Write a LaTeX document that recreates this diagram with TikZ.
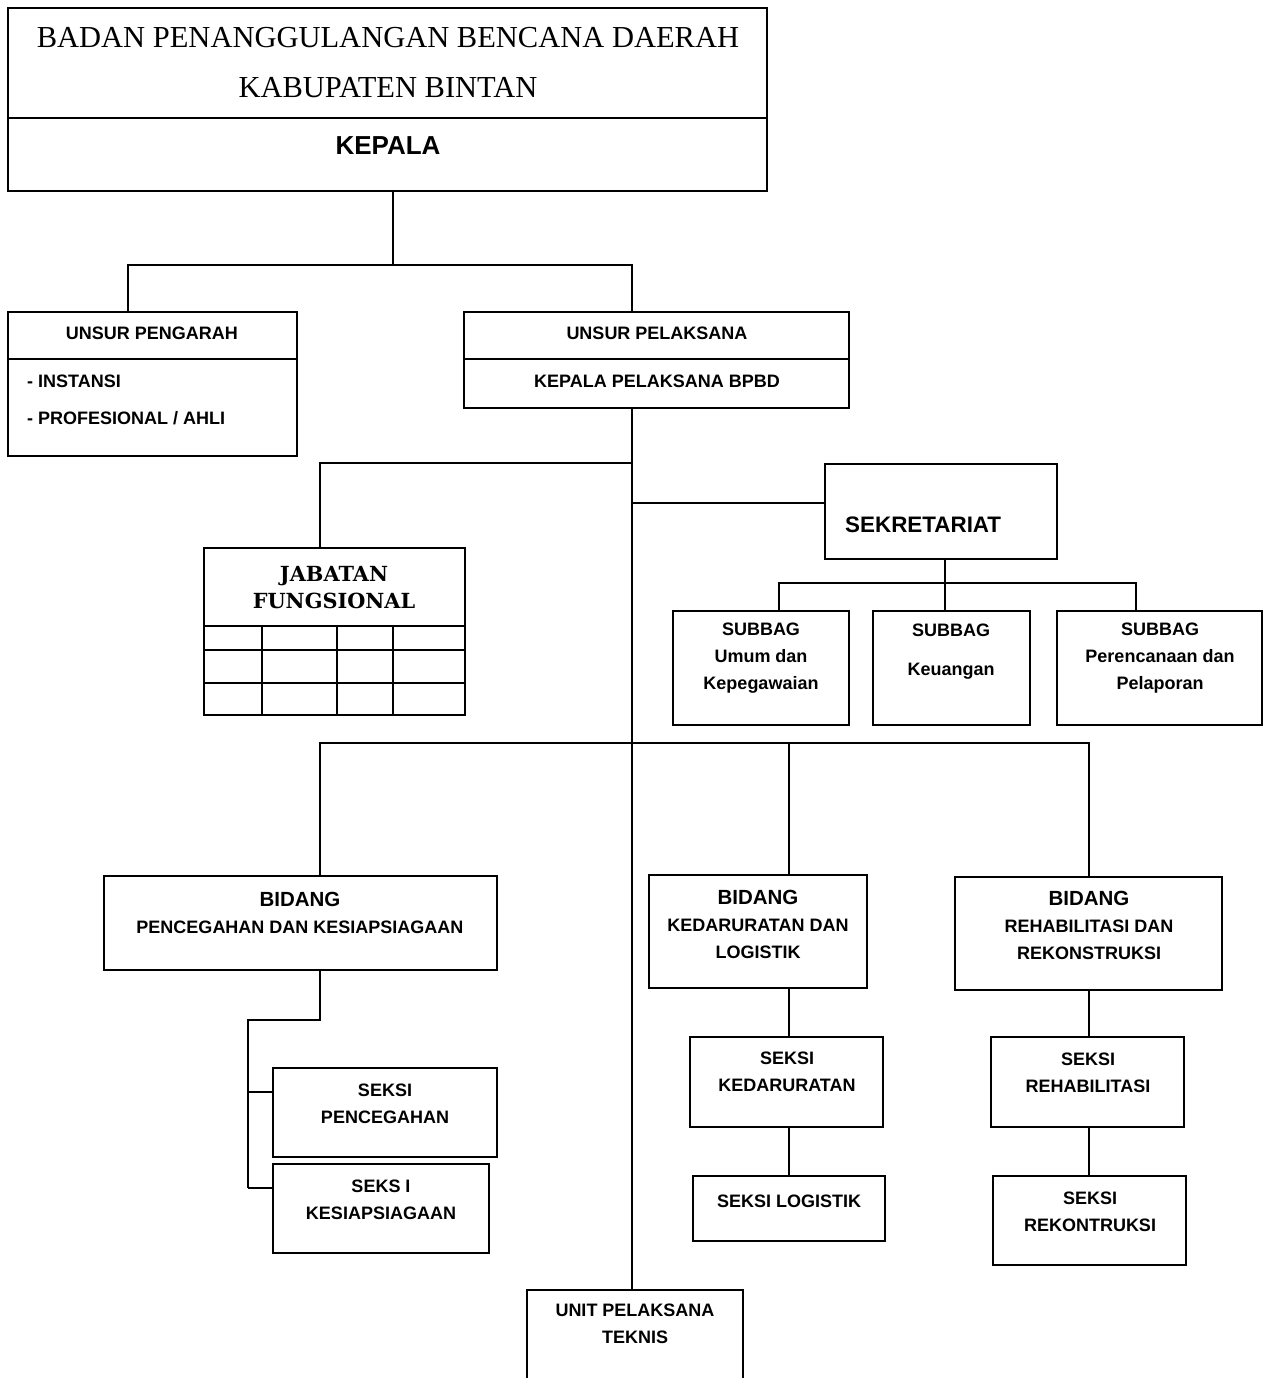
\documentclass[tikz,border=0pt]{standalone}
\usepackage{fontspec}
\setmainfont{Liberation Serif}
\newfontfamily\orgsans{Liberation Sans}
\newfontfamily\jabserif{DejaVu Serif}
\usepackage{tikz}
\usetikzlibrary{positioning}

\begin{document}
\begin{tikzpicture}[x=1pt, y=-1pt,
  box/.style={draw, line width=1.9pt, inner sep=0pt, outer sep=0pt},
  lbl/.style={font=\orgsans\bfseries\fontsize{18}{27}\selectfont, align=center, inner sep=0pt},
  conn/.style={line width=1.9pt}]
  \useasboundingbox (0,0) rectangle (1269,1378);

  % Kepala
  \node[box, minimum width=759pt, minimum height=110pt] (badan) at (387.5,63) {};
  \node[box, minimum width=759pt, minimum height=73pt] (kepala) at (387.5,154.5) {};
  \node[font=\fontsize{30.5}{50}\selectfont, align=center, inner sep=0pt] (t-badan) at (388,63) {BADAN PENANGGULANGAN BENCANA DAERAH\\KABUPATEN BINTAN};
  \node[lbl, font=\orgsans\bfseries\fontsize{26}{30}\selectfont] (t-kepala) at (388,146) {KEPALA};

  % Unsur pengarah / pelaksana
  \node[box, minimum width=289pt, minimum height=47pt] (pengarah) at (152.5,335.5) {};
  \node[box, minimum width=289pt, minimum height=97pt] (pengarah-isi) at (152.5,407.5) {};
  \node[lbl] (t-pengarah) at (152,333) {UNSUR PENGARAH};
  \node[lbl, anchor=west, align=left, font=\orgsans\bfseries\fontsize{18}{37}\selectfont] (t-pengarah-isi) at (27,399.5) {- INSTANSI\\- PROFESIONAL / AHLI};

  \node[box, minimum width=385pt, minimum height=47pt] (pelaksana) at (656.5,335.5) {};
  \node[box, minimum width=385pt, minimum height=49pt] (kalak) at (656.5,383.5) {};
  \node[lbl] (t-pelaksana) at (657,333) {UNSUR PELAKSANA};
  \node[lbl] (t-kalak) at (657,381) {KEPALA PELAKSANA BPBD};

  % Sekretariat
  \node[box, minimum width=232pt, minimum height=95pt] (sekretariat) at (941,511.5) {};
  \node[lbl, anchor=west, font=\orgsans\bfseries\fontsize{22.4}{27}\selectfont] (t-sekretariat) at (845,525) {SEKRETARIAT};

  \node[box, minimum width=176pt, minimum height=114pt] (subbag-umum) at (761,668) {};
  \node[box, minimum width=157pt, minimum height=114pt] (subbag-keu) at (951.5,668) {};
  \node[box, minimum width=205pt, minimum height=114pt] (subbag-renc) at (1159.5,668) {};
  \node[lbl] (t-subbag-umum) at (761,658) {SUBBAG\\Umum dan\\Kepegawaian};
  \node[lbl] (t-subbag-keu) at (951,651.5) {SUBBAG\\[12pt]Keuangan};
  \node[lbl] (t-subbag-renc) at (1160,658) {SUBBAG\\Perencanaan dan\\Pelaporan};

  % Jabatan fungsional
  \node[box, minimum width=261pt, minimum height=167pt] (jabatan) at (334.5,631.5) {};
  \node[font=\jabserif\bfseries\fontsize{20.8}{27}\selectfont, align=center, inner sep=0pt] (t-jabatan) at (334,588) {JABATAN\\FUNGSIONAL};
  \foreach \y in {626,650,683}
    \draw[conn] (204,\y) -- (465,\y);
  \foreach \x in {262,337,393}
    \draw[conn] (\x,626) -- (\x,715);

  % Bidang
  \node[box, minimum width=393pt, minimum height=94pt] (bidang-pk) at (300.5,923) {};
  \node[box, minimum width=218pt, minimum height=113pt] (bidang-kl) at (758,931.5) {};
  \node[box, minimum width=267pt, minimum height=113pt] (bidang-rr) at (1088.5,933.5) {};
  \node[lbl] (t-bidang-pk) at (300,913) {{\orgsans\bfseries\fontsize{20.5}{27}\selectfont BIDANG}\\PENCEGAHAN DAN KESIAPSIAGAAN};
  \node[lbl] (t-bidang-kl) at (758,924.5) {{\orgsans\bfseries\fontsize{20.5}{27}\selectfont BIDANG}\\KEDARURATAN DAN\\LOGISTIK};
  \node[lbl] (t-bidang-rr) at (1089,925) {{\orgsans\bfseries\fontsize{20.5}{27}\selectfont BIDANG}\\REHABILITASI DAN\\REKONSTRUKSI};

  % Seksi
  \node[box, minimum width=224pt, minimum height=89pt] (seksi-cegah) at (385,1112.5) {};
  \node[box, minimum width=216pt, minimum height=89pt] (seksi-siaga) at (381,1208.5) {};
  \node[box, minimum width=193pt, minimum height=90pt] (seksi-darurat) at (786.5,1082) {};
  \node[box, minimum width=192pt, minimum height=65pt] (seksi-logistik) at (789,1208.5) {};
  \node[box, minimum width=193pt, minimum height=90pt] (seksi-rehab) at (1087.5,1082) {};
  \node[box, minimum width=193pt, minimum height=89pt] (seksi-rekon) at (1089.5,1220.5) {};
  \node[lbl] (t-seksi-cegah) at (385,1103.5) {SEKSI\\PENCEGAHAN};
  \node[lbl] (t-seksi-siaga) at (381,1199.5) {SEKS I\\KESIAPSIAGAAN};
  \node[lbl] (t-seksi-darurat) at (787,1072) {SEKSI\\KEDARURATAN};
  \node[lbl] (t-seksi-logistik) at (789,1201) {SEKSI LOGISTIK};
  \node[lbl] (t-seksi-rehab) at (1088,1072.5) {SEKSI\\REHABILITASI};
  \node[lbl] (t-seksi-rekon) at (1090,1211.5) {SEKSI\\REKONTRUKSI};

  % UPT
  \node[box, minimum width=216pt, minimum height=110pt] (upt) at (635,1345) {};
  \node[lbl] (t-upt) at (635,1324) {UNIT PELAKSANA\\TEKNIS};

  % Connectors
  \coordinate (j-kepala) at (393,265);
  \coordinate (bus-a) at (128,265);
  \coordinate (bus-b) at (632,265);
  \draw[conn] (j-kepala |- kepala.south) -- (j-kepala);
  \draw[conn] (bus-a |- pengarah.north) -- (bus-a) -- (bus-b) -- (bus-b |- pelaksana.north);
  \draw[conn] (bus-b |- kalak.south) -- (bus-b |- upt.north);

  \coordinate (j-jabatan) at (320,463);
  \draw[conn] (j-jabatan -| bus-b) -- (j-jabatan) -- (j-jabatan |- jabatan.north);
  \coordinate (j-sekretariat) at (632,503);
  \draw[conn] (j-sekretariat) -- (j-sekretariat -| sekretariat.west);

  \coordinate (j-subbag) at (945,583);
  \coordinate (sub-a) at (779,583);
  \coordinate (sub-c) at (1136,583);
  \draw[conn] (j-subbag |- sekretariat.south) -- (j-subbag |- subbag-keu.north);
  \draw[conn] (sub-a |- subbag-umum.north) -- (sub-a) -- (sub-c) -- (sub-c |- subbag-renc.north);

  \coordinate (bid-a) at (320,743);
  \coordinate (bid-b) at (789,743);
  \coordinate (bid-c) at (1089,743);
  \draw[conn] (bid-a |- bidang-pk.north) -- (bid-a) -- (bid-c) -- (bid-c |- bidang-rr.north);
  \draw[conn] (bid-b) -- (bid-b |- bidang-kl.north);

  \coordinate (j-pk) at (320,1020);
  \coordinate (j-pk2) at (248,1020);
  \coordinate (j-cegah) at (248,1092);
  \coordinate (j-siaga) at (248,1188);
  \draw[conn] (j-pk |- bidang-pk.south) -- (j-pk) -- (j-pk2) -- (j-siaga);
  \draw[conn] (j-cegah) -- (j-cegah -| seksi-cegah.west);
  \draw[conn] (j-siaga) -- (j-siaga -| seksi-siaga.west);

  \draw[conn] (bid-b |- bidang-kl.south) -- (bid-b |- seksi-darurat.north);
  \draw[conn] (bid-b |- seksi-darurat.south) -- (bid-b |- seksi-logistik.north);
  \draw[conn] (bid-c |- bidang-rr.south) -- (bid-c |- seksi-rehab.north);
  \draw[conn] (bid-c |- seksi-rehab.south) -- (bid-c |- seksi-rekon.north);
\end{tikzpicture}
\end{document}
